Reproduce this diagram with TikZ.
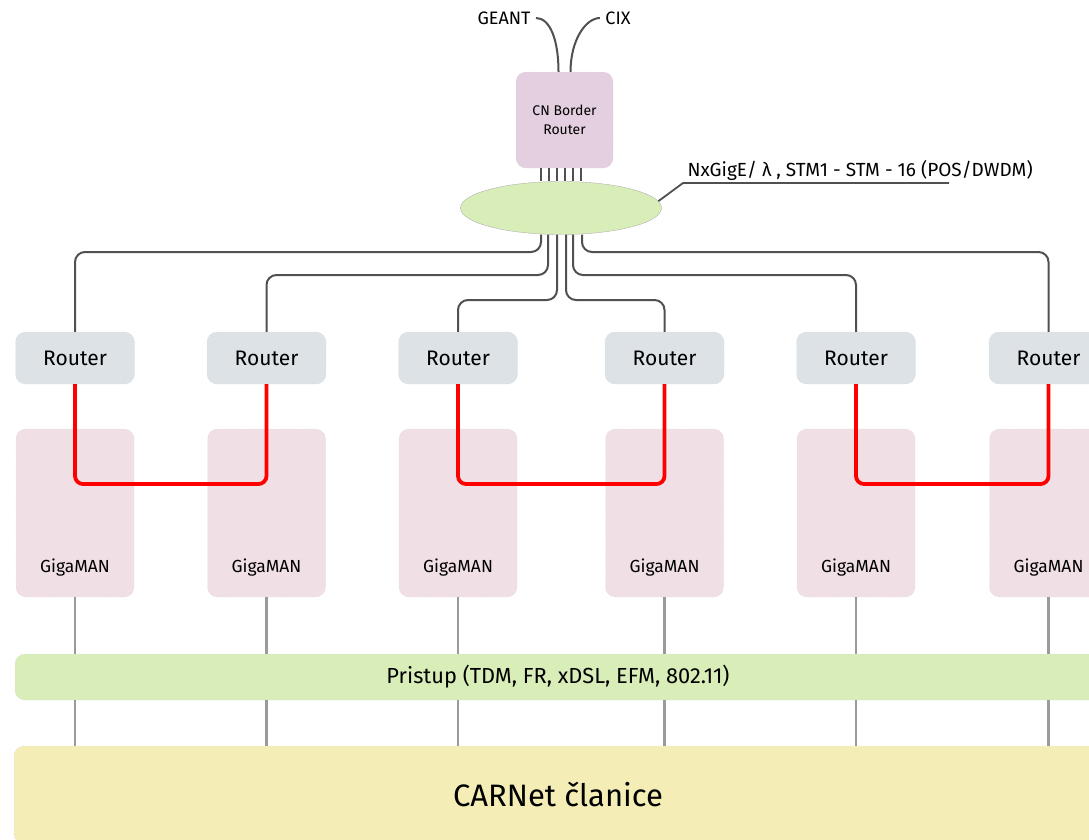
\documentclass[tikz,border=0pt]{standalone}
\usepackage{fontspec}
\setmainfont{Fira Sans}
\usepackage{xcolor}
\usetikzlibrary{shapes.geometric}
\usetikzlibrary{calc}
\definecolor{routerfill}{HTML}{DDE2E7}
\definecolor{borderfill}{HTML}{E3CFDF}
\definecolor{gigafill}{HTML}{F0E0E6}
\definecolor{corefill}{HTML}{D9EDB9}
\definecolor{memberfill}{HTML}{F4EEB6}
\definecolor{linkgrey}{HTML}{505050}
\definecolor{dropgrey}{HTML}{9A9A9A}

\begin{document}
\begin{tikzpicture}[x=1pt,y=-1pt,
    box/.style={draw=gray!40,densely dotted,rounded corners=10pt,inner sep=0pt,text=black},
    uplink/.style={draw=linkgrey,line width=2pt,rounded corners=10pt},
    droplink/.style={draw=dropgrey,line width=2.4pt},
    ringlink/.style={draw=red,line width=3.8pt,rounded corners=8pt}]
        \useasboundingbox (0,0) rectangle (1089,839);
        \clip (0,0) rectangle (1089,839);
        % border router and core
        \node[box,fill=borderfill,minimum width=97pt,minimum height=96pt,align=center,font=\fontsize{14}{19}\selectfont] (cnb) at (564.5,120) {CN Border\\Router};
        \node[ellipse,draw=gray!60,fill=corefill,minimum width=201pt,minimum height=53pt] (core) at (561,208) {};
        \foreach \d in {-20,-12,-4,4,12,20}
            \draw[draw=linkgrey,line width=2pt] ([xshift=\d pt]core.center |- cnb.south) -- ([xshift=\d pt]core.north);
        \node[font=\fontsize{18}{18}\selectfont] (geant) at (504,18) {GEANT};
        \node[font=\fontsize{18}{18}\selectfont] (cix) at (618,18) {CIX};
        \draw[draw=linkgrey,line width=2pt] ([xshift=2pt]geant.east) .. controls +(14,0) and +(0,-32) .. ([xshift=-6pt]cnb.north);
        \draw[draw=linkgrey,line width=2pt] ([xshift=-2pt]cix.west) .. controls +(-14,0) and +(0,-32) .. ([xshift=6pt]cnb.north);
        \node[anchor=west,font=\fontsize{19}{19}\selectfont] (speed) at (684,170) {NxGigE/ λ , STM1 - STM - 16 (POS/DWDM)};
        \coordinate (kink) at (683,183);
        \coordinate (underEnd) at (949,183);
        \draw[draw=linkgrey,line width=1.8pt] (core.4) -- (kink) -- (underEnd);
        % routers and gigaman
        \foreach \x [count=\i] in {75,266.5,458,664.5,856,1048.5} {
            \node[box,fill=gigafill,minimum width=118pt,minimum height=168pt] (g\i) at (\x,513) {};
            \node[font=\fontsize{17.5}{17.5}\selectfont] (gl\i) at (\x,568) {GigaMAN};
            \node[box,fill=routerfill,minimum width=119pt,minimum height=52pt,font=\fontsize{21}{21}\selectfont] (r\i) at (\x,358) {Router};
        }
        \coordinate (lvA) at (0,252);
        \coordinate (lvB) at (0,275);
        \coordinate (lvC) at (0,300);
        \draw[uplink] ([xshift=-20pt]core.south) |- (r1.north |- lvA) -- (r1.north);
        \draw[uplink] ([xshift=-13pt]core.south) |- (r2.north |- lvB) -- (r2.north);
        \draw[uplink] ([xshift=-4pt]core.south) |- (r3.north |- lvC) -- (r3.north);
        \draw[uplink] ([xshift=5pt]core.south) |- (r4.north |- lvC) -- (r4.north);
        \draw[uplink] ([xshift=12pt]core.south) |- (r5.north |- lvB) -- (r5.north);
        \draw[uplink] ([xshift=21pt]core.south) |- (r6.north |- lvA) -- (r6.north);
        % red rings
        \coordinate (ringY) at (0,484);
        \draw[ringlink] (r1.south) -- (r1.south |- ringY) -| (r2.south);
        \draw[ringlink] (r3.south) -- (r3.south |- ringY) -| (r4.south);
        \draw[ringlink] (r5.south) -- (r5.south |- ringY) -| (r6.south);
        % access and members
        \node[box,fill=corefill,minimum width=1086pt,minimum height=46pt,font=\fontsize{21.8}{21.8}\selectfont] (access) at (558,677) {Pristup (TDM, FR, xDSL, EFM, 802.11)};
        \node[box,fill=memberfill,minimum width=1088pt,minimum height=98pt,font=\fontsize{31}{31}\selectfont] (members) at (558,795) {CARNet članice};
        \foreach \i in {1,...,6} {
            \draw[droplink] (g\i.south) -- (g\i.south |- access.north);
            \draw[droplink] (g\i.south |- access.south) -- (g\i.south |- members.north);
        }
\end{tikzpicture}
\end{document}
